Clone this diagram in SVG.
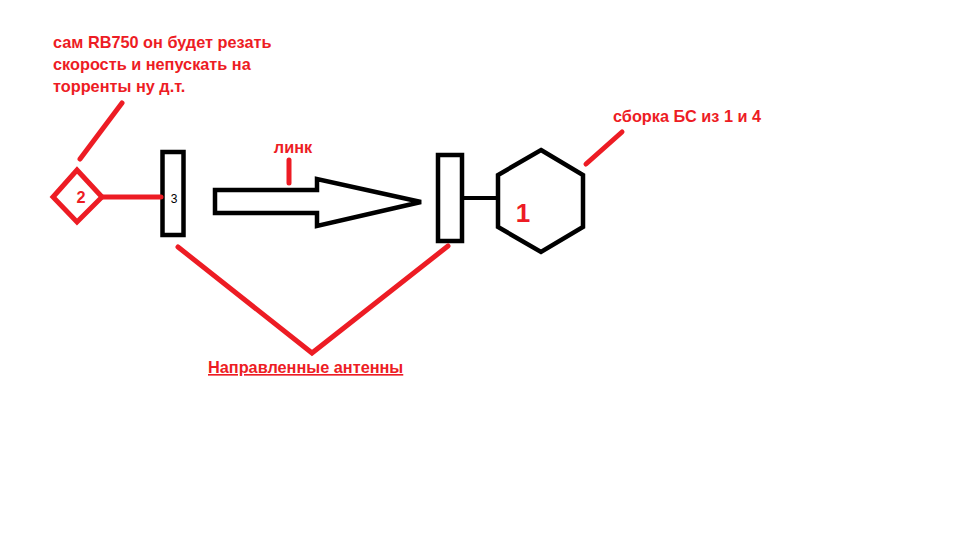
<svg xmlns="http://www.w3.org/2000/svg" width="960" height="540" viewBox="0 0 960 540">
<style>
.red{fill:none;stroke:#ed1c24;stroke-width:5;stroke-linecap:round;stroke-linejoin:miter}
.blk{fill:none;stroke:#000;stroke-width:4.5;stroke-linejoin:miter}
.rt{font-family:"Liberation Sans",Arial,sans-serif;font-weight:bold;fill:#ed1c24;font-size:16.3px}
</style>
<rect width="960" height="540" fill="#fff"/>
<g id="note-rb750">
<text class="rt" x="53" y="48">сам RB750 он будет резать</text>
<text class="rt" x="53" y="70">скорость и непускать на</text>
<text class="rt" x="53" y="92">торренты ну д.т.</text>
</g>
<g id="node-2">
<polygon class="red" points="77,170 102,197 77,222 53,197"/>
<text class="rt" x="81" y="203" text-anchor="middle">2</text>
</g>
<g id="antenna-3">
<rect class="blk" x="162.5" y="152" width="21" height="83"/>
<text x="174" y="203" font-family="Liberation Sans,Arial,sans-serif" font-size="12" text-anchor="middle" fill="#000">3</text>
</g>
<g id="link-arrow">
<polygon class="blk" points="215,190 317,190 317,179 421,202 317,226 317,213 215,213"/>
<text class="rt" x="293" y="153" text-anchor="middle">линк</text>
</g>
<g id="antenna-right">
<rect class="blk" x="438" y="155" width="24" height="86"/>
</g>
<g id="node-1">
<polygon class="blk" points="541,150 583,175 583,227 541,252 498,227 498,175"/>
<text class="rt" x="523" y="222" style="font-size:26px" text-anchor="middle">1</text>
</g>
<g id="note-bs">
<text class="rt" x="613" y="122">сборка БС из 1 и 4</text>
</g>
<g id="antennas-label">
<text class="rt" x="208" y="373" text-decoration="underline">Направленные антенны</text>
</g>
<g id="connectors">
<line class="red" x1="122" y1="103" x2="80" y2="159"/>
<line class="red" x1="102" y1="197" x2="161" y2="197" stroke-linecap="butt"/>
<line class="red" x1="289" y1="160" x2="289" y2="183"/>
<line x1="464" y1="198" x2="497" y2="198" stroke="#000" stroke-width="4"/>
<line class="red" x1="586" y1="164" x2="622" y2="132"/>
<polyline class="red" points="178,247 312,353 448,246"/>
</g>
</svg>
